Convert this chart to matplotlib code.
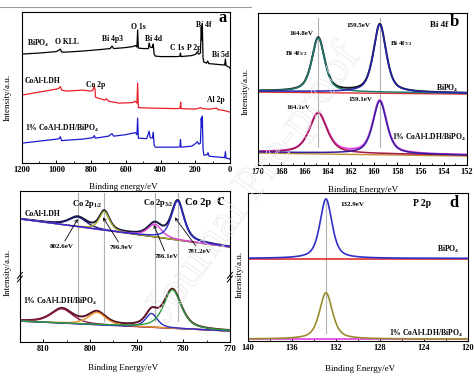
import numpy as np
import matplotlib.pyplot as plt
from matplotlib import patheffects
from matplotlib.ticker import MultipleLocator

plt.rcParams['font.family'] = 'Liberation Serif'
plt.rcParams['font.weight'] = 'bold'
plt.rcParams['mathtext.fontset'] = 'custom'
plt.rcParams['mathtext.rm'] = 'Liberation Serif:bold'
plt.rcParams['mathtext.default'] = 'rm'
plt.rcParams['xtick.direction'] = 'in'
plt.rcParams['axes.linewidth'] = 0.8

# ---- panel a: survey spectra (binding energy, intensity) ----
bipo4_E = [1200, 1100, 1000, 985, 978, 970, 940, 850, 750, 690, 680, 670, 600, 560, 545, 536, 532, 528,
           500, 470, 466, 460, 447, 442, 437, 430, 400, 300, 288, 285, 282, 220, 195, 190, 180, 170,
           165, 162, 159, 155, 150, 135, 128, 122, 60, 30, 26, 22, 5, 0]
bipo4_I = [109, 110, 111.5, 113, 114, 111, 111, 112, 113.5, 114.5, 117, 114.5, 115.5, 116.5, 117.5, 116, 133, 115,
           114.5, 114.5, 120, 116, 115.5, 119, 109, 107, 106.5, 106.5, 107, 110, 106.5, 107.5, 109, 111, 109, 110,
           136, 123, 139, 105, 101, 100, 102, 99.5, 98.5, 98, 104, 97.5, 96, 95]

ldh_E = [1200, 1100, 1000, 985, 978, 970, 940, 850, 800, 790, 783, 778, 775, 760, 720, 712, 700, 640, 560, 548,
         536, 532, 528, 450, 300, 287, 284, 281, 200, 166, 160, 120, 75, 70, 30, 0]
ldh_I = [68, 71, 74, 75, 76.5, 73, 72, 73, 72, 73, 77, 74, 66, 65, 63, 64.5, 62, 60, 60.5, 62,
         60, 80, 55.5, 55, 54.5, 55, 61, 54.5, 54, 55.5, 54.5, 54, 55, 53.5, 52.5, 51]

comp_E = [1200, 1100, 1000, 985, 978, 970, 940, 850, 790, 782, 775, 700, 680, 670, 600, 560, 545, 536, 532, 528,
          480, 466, 460, 447, 442, 437, 430, 300, 288, 285, 282, 220, 195, 188, 178, 170, 165, 162, 159, 155,
          150, 130, 126, 120, 60, 30, 26, 22, 5, 0]
comp_I = [20, 22, 24, 24.5, 26.5, 22.5, 23, 24, 25.5, 27.5, 25, 27, 29.5, 27, 28.5, 30, 30.5, 28.5, 45, 25,
          24.5, 32, 25.5, 25, 31, 18, 16, 16, 16.5, 23.5, 16, 17, 20, 21.5, 19, 20, 45, 36, 47, 14,
          8, 8.5, 10.5, 7, 6, 5.5, 11.5, 5, 4.5, 4]

# ---- panel b: Bi 4f (centre, height, FWHM), background at 170 / 152 eV ----
bi_centers = [164.8, 159.5]
bi_top_h = [54, 68]
bi_top_w = [1.3, 1.3]
bi_top_bg = [74, 72]
bi_bot_h = [40, 53]
bi_bot_w = [1.8, 1.4]
bi_bot_bg = [13, 10]

# ---- panel c: Co 2p ----
co_top_c = [802.6, 796.9, 786.1, 781.2]
co_top_h = [9.8, 19, 13, 39.5]
co_top_w = [4.5, 2.6, 3.5, 3.2]
co_top_bg = [124.7, 96.3]
co_bot_c = [806.0, 798.5, 786.8, 782.3]
co_bot_h = [14.5, 12.5, 14, 39]
co_bot_w = [5.5, 4.5, 3.0, 4.5]
co_bot_bg = [21.3, 11.3]
co_lines = [802.6, 796.9, 786.1, 781.2]

# ---- panel d: P 2p ----
p_center = 132.9
p_top = [59, 1.3, 82]   # height, FWHM, background
p_bot = [46, 1.4, 2]


def pv(x, c, h, w, eta=0.6):
    g = np.exp(-4 * np.log(2) * ((x - c) / w) ** 2)
    l = 1 / (1 + 4 * ((x - c) / w) ** 2)
    return h * (eta * l + (1 - eta) * g)


def bg_line(x, x0, x1, bg):
    return bg[0] + (bg[1] - bg[0]) * (x - x0) / (x1 - x0)


def style(ax, lo, hi, major, minor):
    ax.set_xlim(lo, hi)
    ax.xaxis.set_major_locator(MultipleLocator(major))
    ax.xaxis.set_minor_locator(MultipleLocator(minor))
    ax.tick_params(axis='x', labelsize=6, length=2.5, width=0.7, pad=2)
    ax.tick_params(axis='x', which='minor', length=1.5, width=0.6)
    ax.set_yticks([])


fig = plt.figure(figsize=(4.74, 3.76), dpi=100)
fig.add_artist(plt.Line2D([0, 0.53], [0.981, 0.981], color='#9a9a9a', lw=0.8))

# ---------------- a ----------------
ax = fig.add_axes([0.046, 0.566, 0.439, 0.402])
style(ax, 1200, 0, 200, 100)
ax.set_ylim(0, 151)
ax.plot(bipo4_E, bipo4_I, color='black', lw=0.9)
ax.plot(ldh_E, ldh_I, color='#e8202a', lw=0.9)
ax.plot(comp_E, comp_I, color='#1a1ad0', lw=0.9)
fs = 5.5
ax.text(1171, 120, 'BiPO$_4$', fontsize=fs, va='center')
ax.text(1010, 121, 'O KLL', fontsize=fs, va='center')
ax.text(738, 124, 'Bi 4p3', fontsize=fs, va='center')
ax.text(571, 136, 'O 1s', fontsize=fs, va='center')
ax.text(490, 124, 'Bi 4d', fontsize=fs, va='center')
ax.text(346, 115, 'C 1s', fontsize=fs, va='center')
ax.text(248, 115, 'P 2p', fontsize=fs, va='center')
ax.text(196, 138, 'Bi 4f', fontsize=fs, va='center')
ax.text(104, 108, 'Bi 5d', fontsize=fs, va='center')
ax.text(1183, 82, 'CoAl-LDH', fontsize=fs, va='center')
ax.text(831, 78, 'Co 2p', fontsize=fs, va='center')
ax.text(133, 63, 'Al 2p', fontsize=fs, va='center')
ax.text(1183, 35, '1% CoAl-LDH/BiPO$_4$', fontsize=fs, va='center')
ax.text(40, 145, 'a', fontsize=12, ha='center', va='center')
ax.set_xlabel('Binding energy/eV', fontsize=6.5)
ax.xaxis.set_label_coords(0.486, -0.13)
ax.set_ylabel('Intensity/a.u.', fontsize=6.5)
ax.yaxis.set_label_coords(-0.048, 0.437)

# ---------------- b ----------------
ax = fig.add_axes([0.544, 0.561, 0.441, 0.404])
style(ax, 170, 152, 2, 1)
ax.set_ylim(0, 152)
x = np.linspace(170, 152, 600)
for cx in bi_centers:
    ax.plot([cx, cx], [18, 147], color='#b0b0b0', lw=0.8)
# upper: BiPO4
base = bg_line(x, 170, 152, bi_top_bg)
p1 = pv(x, bi_centers[0], bi_top_h[0], bi_top_w[0])
p2 = pv(x, bi_centers[1], bi_top_h[1], bi_top_w[1])
ax.plot(x, base - 1, color='#e03030', lw=1.0)
ax.plot(x, base + p1 + p2, color='#151515', lw=1.4)
ax.plot(x, base + p1, color='#1f7a6e', lw=1.1)
ax.plot(x, base + p2, color='#2424b0', lw=1.1)
# lower: composite
base = bg_line(x, 170, 152, bi_bot_bg)
p1 = pv(x, bi_centers[0], bi_bot_h[0], bi_bot_w[0])
p2 = pv(x, bi_centers[1], bi_bot_h[1], bi_bot_w[1])
ax.plot(x, base + p1 + p2, color='#e040e0', lw=1.5)
ax.plot(x, base - 1, color='#c88a30', lw=1.0)
ax.plot(x, base + p1, color='#a01845', lw=1.1)
ax.plot(x, base + p2, color='#3020a0', lw=1.1)
ax.text(165.25, 132, '164.8eV', fontsize=5, ha='right', va='center')
ax.text(167.7, 112, 'Bi 4f$_{5/2}$', fontsize=5, va='center')
ax.text(162.4, 140, '159.5eV', fontsize=5, va='center')
ax.text(158.6, 122, 'Bi 4f$_{7/2}$', fontsize=5, va='center')
ax.text(155.2, 140, 'Bi 4f', fontsize=6.5, va='center')
ax.text(153.1, 143, 'b', fontsize=12, ha='center', va='center')
ax.text(152.7, 77, 'BiPO$_4$', fontsize=5.5, ha='right', va='center')
ax.text(167.5, 58, '164.1eV', fontsize=5, va='center')
ax.text(162.2, 66, '159.1eV', fontsize=5, va='center')
ax.text(158.45, 28, '1% CoAl-LDH/BiPO$_4$', fontsize=5.5, va='center')
ax.set_xlabel('Binding Energy/eV', fontsize=6.5)
ax.xaxis.set_label_coords(0.505, -0.138)
ax.set_ylabel('Intensity/a.u.', fontsize=6.5)
ax.yaxis.set_label_coords(-0.038, 0.487)

# ---------------- c ----------------
ax = fig.add_axes([0.042, 0.090, 0.443, 0.402])
style(ax, 815, 770, 10, 5)
ax.set_ylim(0, 153)
x = np.linspace(815, 770, 800)
for cx in co_lines:
    ax.plot([cx, cx], [21, 151], color='#b0b0b0', lw=0.8)
top_cols = ['#1c1c70', '#a8a828', '#e040d8', '#2a2ad0']
base = bg_line(x, 815, 770, co_top_bg)
peaks = [pv(x, c, h, w) for c, h, w in zip(co_top_c, co_top_h, co_top_w)]
ax.plot(x, base + sum(peaks), color='#151540', lw=1.4)
ax.plot(x, base, color='#b08a40', lw=1.0)
for p, col in zip(peaks, top_cols):
    ax.plot(x, base + p, color=col, lw=1.0)
bot_cols = ['#8b1a4a', '#e8902a', '#2a30c8', '#2a9a3a']
base = bg_line(x, 815, 770, co_bot_bg)
peaks = [pv(x, c, h, w) for c, h, w in zip(co_bot_c, co_bot_h, co_bot_w)]
ax.plot(x, base + sum(peaks), color='#5a1020', lw=1.4)
ax.plot(x, base, color='#7a2a9a', lw=1.0)
for p, col in zip(peaks, bot_cols):
    ax.plot(x, base + p, color=col, lw=1.0)
arr = dict(arrowstyle='->', color='black', lw=0.6, shrinkA=0, shrinkB=0, mutation_scale=5)
ax.annotate('802.6eV', xy=(802.6, 124.7), xytext=(808.6, 97), fontsize=5, va='center', arrowprops=arr)
ax.annotate('796.9eV', xy=(797.2, 126.3), xytext=(795.7, 96), fontsize=5, va='center', arrowprops=arr)
ax.annotate('786.1eV', xy=(786.3, 118.7), xytext=(786.1, 87), fontsize=5, va='center', arrowprops=arr)
ax.annotate('781.2eV', xy=(781.8, 126.3), xytext=(779.0, 92), fontsize=5, va='center', arrowprops=arr)
ax.text(803.9, 140, 'Co 2p$_{1/2}$', fontsize=6, va='center')
ax.text(788.6, 141, 'Co 2p$_{3/2}$', fontsize=6, va='center')
ax.text(779.6, 141, 'Co 2p', fontsize=7.5, va='center')
ax.text(772.1, 143, 'c', fontsize=12, ha='center', va='center')
ax.text(813.9, 130, 'CoAl-LDH', fontsize=5.5, va='center')
ax.text(814.4, 41, '1% CoAl-LDH/BiPO$_4$', fontsize=5.5, va='center')
for xa in (0, 1):
    for dy in (-0.012, 0.012):
        ax.plot([xa - 0.012, xa + 0.012], [0.43 + dy - 0.02, 0.43 + dy + 0.02], transform=ax.transAxes,
                color='black', lw=0.7, clip_on=False)
ax.set_xlabel('Binding Energy/eV', fontsize=6.5)
ax.xaxis.set_label_coords(0.49, -0.144)
ax.set_ylabel('Intensity/a.u.', fontsize=6.5)
ax.yaxis.set_label_coords(-0.038, 0.46)

# ---------------- d ----------------
ax = fig.add_axes([0.523, 0.093, 0.464, 0.394])
style(ax, 140, 120, 4, 2)
ax.set_ylim(0, 147)
x = np.linspace(140, 120, 600)
ax.plot([p_center, p_center], [8, 138], color='#b0b0b0', lw=0.8)
ax.plot(x, np.full_like(x, p_top[2]) - 0.8, color='#e03030', lw=1.2)
ax.plot(x, p_top[2] + pv(x, p_center, p_top[0], p_top[1]), color='#3030c8', lw=1.2)
ax.plot(x, np.full_like(x, p_bot[2]), color='#e040e0', lw=1.2)
ax.plot(x, p_bot[2] + pv(x, p_center, p_bot[0], p_bot[1]), color='#9a8c2e', lw=1.2)
ax.text(131.6, 135, '132.9eV', fontsize=5, va='center')
ax.text(125.0, 136, 'P 2p', fontsize=7, va='center')
ax.text(121.3, 137, 'd', fontsize=12, ha='center', va='center')
ax.text(120.8, 91, 'BiPO$_4$', fontsize=5.5, ha='right', va='center')
ax.text(120.4, 8, '1% CoAl-LDH/BiPO$_4$', fontsize=5.5, ha='right', va='center')
ax.set_xlabel('Binding Energy/eV', fontsize=6.5)
ax.xaxis.set_label_coords(0.51, -0.163)
ax.set_ylabel('Intensity/a.u.', fontsize=6.5)
ax.yaxis.set_label_coords(-0.02, 0.45)

# faint watermark
fig.text(0.538, 0.513, 'Journal Pre-proof', rotation=54, fontsize=34, fontweight='normal',
         ha='center', va='center', color='none',
         path_effects=[patheffects.Stroke(linewidth=0.5, foreground='#e6e6e6')])

fig.savefig('out.png', dpi=100)
